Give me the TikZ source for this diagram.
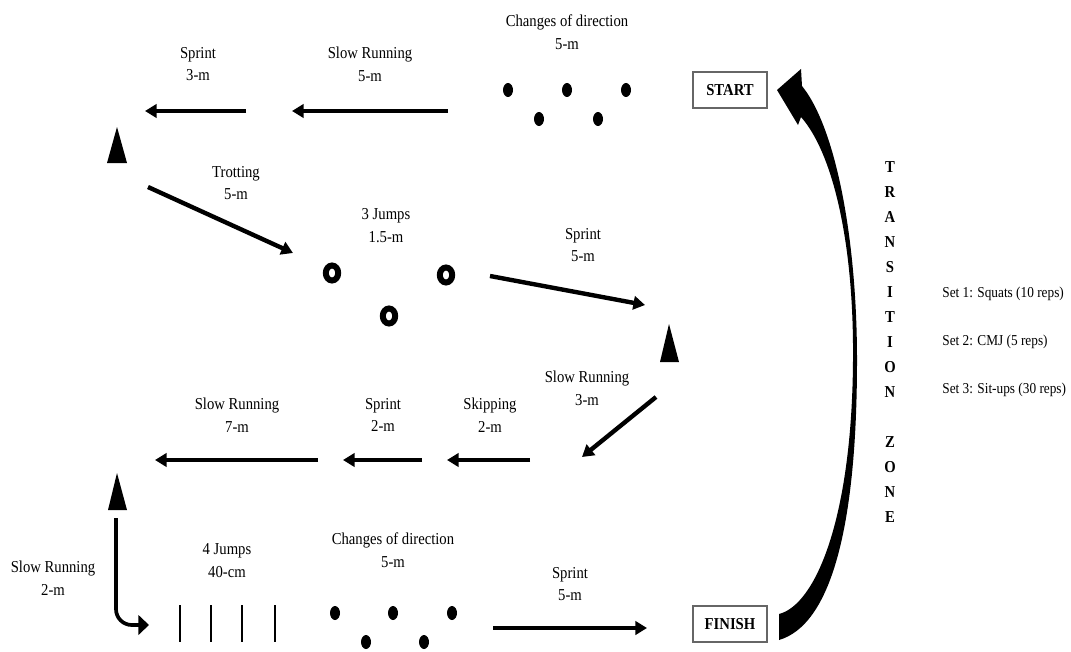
\documentclass[tikz,border=0pt]{standalone}
\usepackage{fontspec}
\setmainfont{Liberation Serif}[FakeStretch=0.88]
\usetikzlibrary{arrows.meta, positioning}

\tikzset{
  etiqueta/.style={align=center, inner sep=0pt, font=\fontsize{9.5}{13}\selectfont},
  carrera/.style={line width=2.5pt, -{Triangle[length=6.6pt, width=7.6pt]}},
  giro/.style={line width=2.1pt, rounded corners=9pt, -{Triangle[length=6pt, width=11pt]}},
  caja/.style={draw=black!60, line width=0.6pt, minimum width=1.48cm, minimum height=0.72cm, inner sep=0pt, font=\fontsize{9.5}{12}\selectfont\bfseries},
  letra/.style={inner sep=0pt, font=\fontsize{9.5}{12}\selectfont\bfseries},
  serie/.style={anchor=west, inner sep=0pt, font=\fontsize{8.6}{12}\selectfont},
}

\begin{document}
\begin{tikzpicture}[x=0.02cm, y=-0.02cm]
\useasboundingbox (0,0) rectangle (1071,652);

% Conos (triangulos negros)
\fill (107,163) -- (117,127) -- (127,163) -- cycle;
\fill (660,362) -- (669,324) -- (679,362) -- cycle;
\fill (108,510) -- (117,473) -- (127,510) -- cycle;

% Cambios de direccion: puntos
\foreach \px/\py in {508/90, 567/90, 626/90, 539/119, 598/119,
                     335/613, 393/613, 452/613, 366/642, 424/642}
  \fill (\px,\py) ellipse [x radius=5, y radius=7];

% Aros de los 3 saltos
\foreach \px/\py in {332/273, 446/275, 389/316}
  \draw[line width=3.4pt] (\px,\py) ellipse [x radius=6.2, y radius=7.5];

% Vallas de los 4 saltos
\foreach \px in {180, 211, 242, 275}
  \draw[line width=1.2pt] (\px,605) -- (\px,642);

% Cajas de salida y llegada
\node[caja] (start) at (730,90) {START};
\node[caja] (finish) at (730,624) {FINISH};

% Etiquetas
\node[etiqueta] (l1) at (198,64) {Sprint\\3-m};
\node[etiqueta] (l2) at (370,64) {Slow Running\\5-m};
\node[etiqueta] (l3) at (567,32) {Changes of direction\\5-m};
\node[etiqueta] (l4) at (236,183) {Trotting\\5-m};
\node[etiqueta] (l5) at (386,226) {3 Jumps\\1.5-m};
\node[etiqueta] (l6) at (583,245) {Sprint\\5-m};
\node[etiqueta] (l7) at (587,388) {Slow Running\\3-m};
\node[etiqueta] (l8) at (490,415) {Skipping\\2-m};
\node[etiqueta] (l9) at (383,415) {Sprint\\2-m};
\node[etiqueta] (l10) at (237,415) {Slow Running\\7-m};
\node[etiqueta] (l11) at (53,578) {Slow Running\\2-m};
\node[etiqueta] (l12) at (227,561) {4 Jumps\\40-cm};
\node[etiqueta] (l13) at (393,550) {Changes of direction\\5-m};
\node[etiqueta] (l14) at (570,584) {Sprint\\5-m};

% Extremos de las flechas del recorrido
\coordinate (a1) at (246,111);  \coordinate (b1) at (145,111);
\coordinate (a2) at (448,111);  \coordinate (b2) at (292,111);
\coordinate (a3) at (148,187);  \coordinate (b3) at (293,253);
\coordinate (a4) at (490,276);  \coordinate (b4) at (645,305);
\coordinate (a5) at (656,397);  \coordinate (b5) at (582,457);
\coordinate (a6) at (530,460);  \coordinate (b6) at (447,460);
\coordinate (a7) at (422,460);  \coordinate (b7) at (343,460);
\coordinate (a8) at (318,460);  \coordinate (b8) at (155,460);
\coordinate (a9) at (116,518);  \coordinate (b9) at (149,625);
\coordinate (a10) at (493,628); \coordinate (b10) at (647,628);

\draw[carrera] (a1) -- (b1);
\draw[carrera] (a2) -- (b2);
\draw[carrera] (a3) -- (b3);
\draw[carrera] (a4) -- (b4);
\draw[carrera] (a5) -- (b5);
\draw[carrera] (a6) -- (b6);
\draw[carrera] (a7) -- (b7);
\draw[carrera] (a8) -- (b8);
\draw[giro] (a9) |- (b9);
\draw[carrera] (a10) -- (b10);

% Flecha curva de la zona de transicion
\fill (779,614) .. controls (815,605) and (852,520) .. (853,360)
  .. controls (854,240) and (832,152) .. (801,117)
  -- (798,125) -- (777,90) -- (801,69) -- (802,86)
  .. controls (836,128) and (857,240) .. (857,360)
  .. controls (857,530) and (830,625) .. (779,640) -- cycle;

% Texto vertical
\foreach \c [count=\i] in {T,R,A,N,S,I,T,I,O,N}
  \node[letra] (tz\i) at (890,142+25*\i) {\c};
\foreach \c [count=\i] in {Z,O,N,E}
  \node[letra] (zn\i) at (890,417+25*\i) {\c};

% Series
\node[serie] (set1) at (942,294) {Set 1: Squats (10 reps)};
\node[serie] (set2) at (942,342) {Set 2: CMJ (5 reps)};
\node[serie] (set3) at (942,390) {Set 3: Sit-ups (30 reps)};
\end{tikzpicture}
\end{document}
